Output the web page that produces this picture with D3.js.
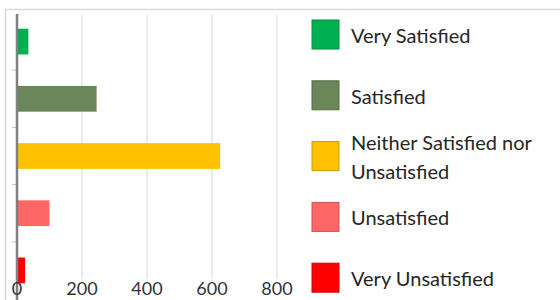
<!DOCTYPE html>
<html>
<head>
<meta charset="utf-8">
<script src="https://cdn.jsdelivr.net/npm/d3@7"></script>
<style>
  body { margin: 0; background: #fff; }
  svg { display: block; font-family: Lato, "Open Sans", sans-serif; }
</style>
</head>
<body>
<div id="chart"></div>
<script>
const categories = ['Very Satisfied', 'Satisfied', 'Neither Satisfied nor Unsatisfied', 'Unsatisfied', 'Very Unsatisfied'];
const values = [35, 245, 625, 100, 25];
const colors = ['#00b050', '#6b8658', '#ffc000', '#ff6666', '#ff0000'];
const legendLines = [['Very Satisfied'], ['Satisfied'], ['Neither Satisfied nor', 'Unsatisfied'], ['Unsatisfied'], ['Very Unsatisfied']];
const xTicks = [0, 200, 400, 600, 800];

const width = 560;
const height = 300;

const svg = d3.select('#chart')
    .append('svg')
    .attr('width', width)
    .attr('height', height);

// outer frame (only top and left edges are visible in the crop)
svg.append('path')
    .attr('d', `M5.5,${height} V9.5 H${width}`)
    .attr('fill', 'none')
    .attr('stroke', '#d9d9d9')
    .attr('stroke-width', 1.5);

const x = d3.scaleLinear().domain([0, 800]).range([17, 277]);
const y = d3.scaleBand()
    .domain(categories)
    .range([13, 299])
    .paddingInner(0.55)
    .paddingOuter(0.275);

// gridlines
svg.append('g')
    .selectAll('line')
    .data(xTicks.slice(1))
    .enter()
    .append('line')
    .attr('x1', d => x(d))
    .attr('x2', d => x(d))
    .attr('y1', 14)
    .attr('y2', 279)
    .attr('stroke', '#d9d9d9')
    .attr('stroke-width', 1);

// bars
svg.append('g')
    .selectAll('rect')
    .data(categories)
    .enter()
    .append('rect')
    .attr('x', x(0))
    .attr('y', d => y(d))
    .attr('width', (d, i) => x(values[i]) - x(0))
    .attr('height', y.bandwidth())
    .attr('fill', (d, i) => colors[i]);

// category axis with ticks between bands
const step = y.step();
const boundaries = d3.range(1, categories.length).map(i => y.range()[0] + step * i);
svg.append('g')
    .selectAll('line')
    .data(boundaries)
    .enter()
    .append('line')
    .attr('x1', 12)
    .attr('x2', 17)
    .attr('y1', d => d)
    .attr('y2', d => d)
    .attr('stroke', '#bfbfbf')
    .attr('stroke-width', 1);

svg.append('line')
    .attr('x1', 17)
    .attr('x2', 17)
    .attr('y1', 14)
    .attr('y2', height)
    .attr('stroke', '#808080')
    .attr('stroke-width', 2.5);

// value tick labels
svg.append('g')
    .selectAll('text')
    .data(xTicks)
    .enter()
    .append('text')
    .attr('x', d => x(d))
    .attr('y', 295)
    .attr('text-anchor', 'middle')
    .attr('font-size', '18px')
    .attr('fill', '#333')
    .text(d => d);

// legend
const legend = svg.append('g')
    .selectAll('g')
    .data(categories)
    .enter()
    .append('g')
    .attr('transform', (d, i) => `translate(312, ${20 + i * 60.8})`);

legend.append('rect')
    .attr('width', 27)
    .attr('height', 29)
    .attr('fill', (d, i) => colors[i])
    .attr('stroke', (d, i) => d3.color(colors[i]).darker(0.6))
    .attr('stroke-width', 1);

legend.each(function (d, i) {
    const lines = legendLines[i];
    const g = d3.select(this);
    const firstBase = lines.length > 1 ? 8 : 23;
    lines.forEach((line, j) => {
        g.append('text')
            .attr('x', 39)
            .attr('y', firstBase + j * 29)
            .attr('font-size', '20px')
            .attr('fill', '#262626')
            .text(line);
    });
});
</script>
</body>
</html>
